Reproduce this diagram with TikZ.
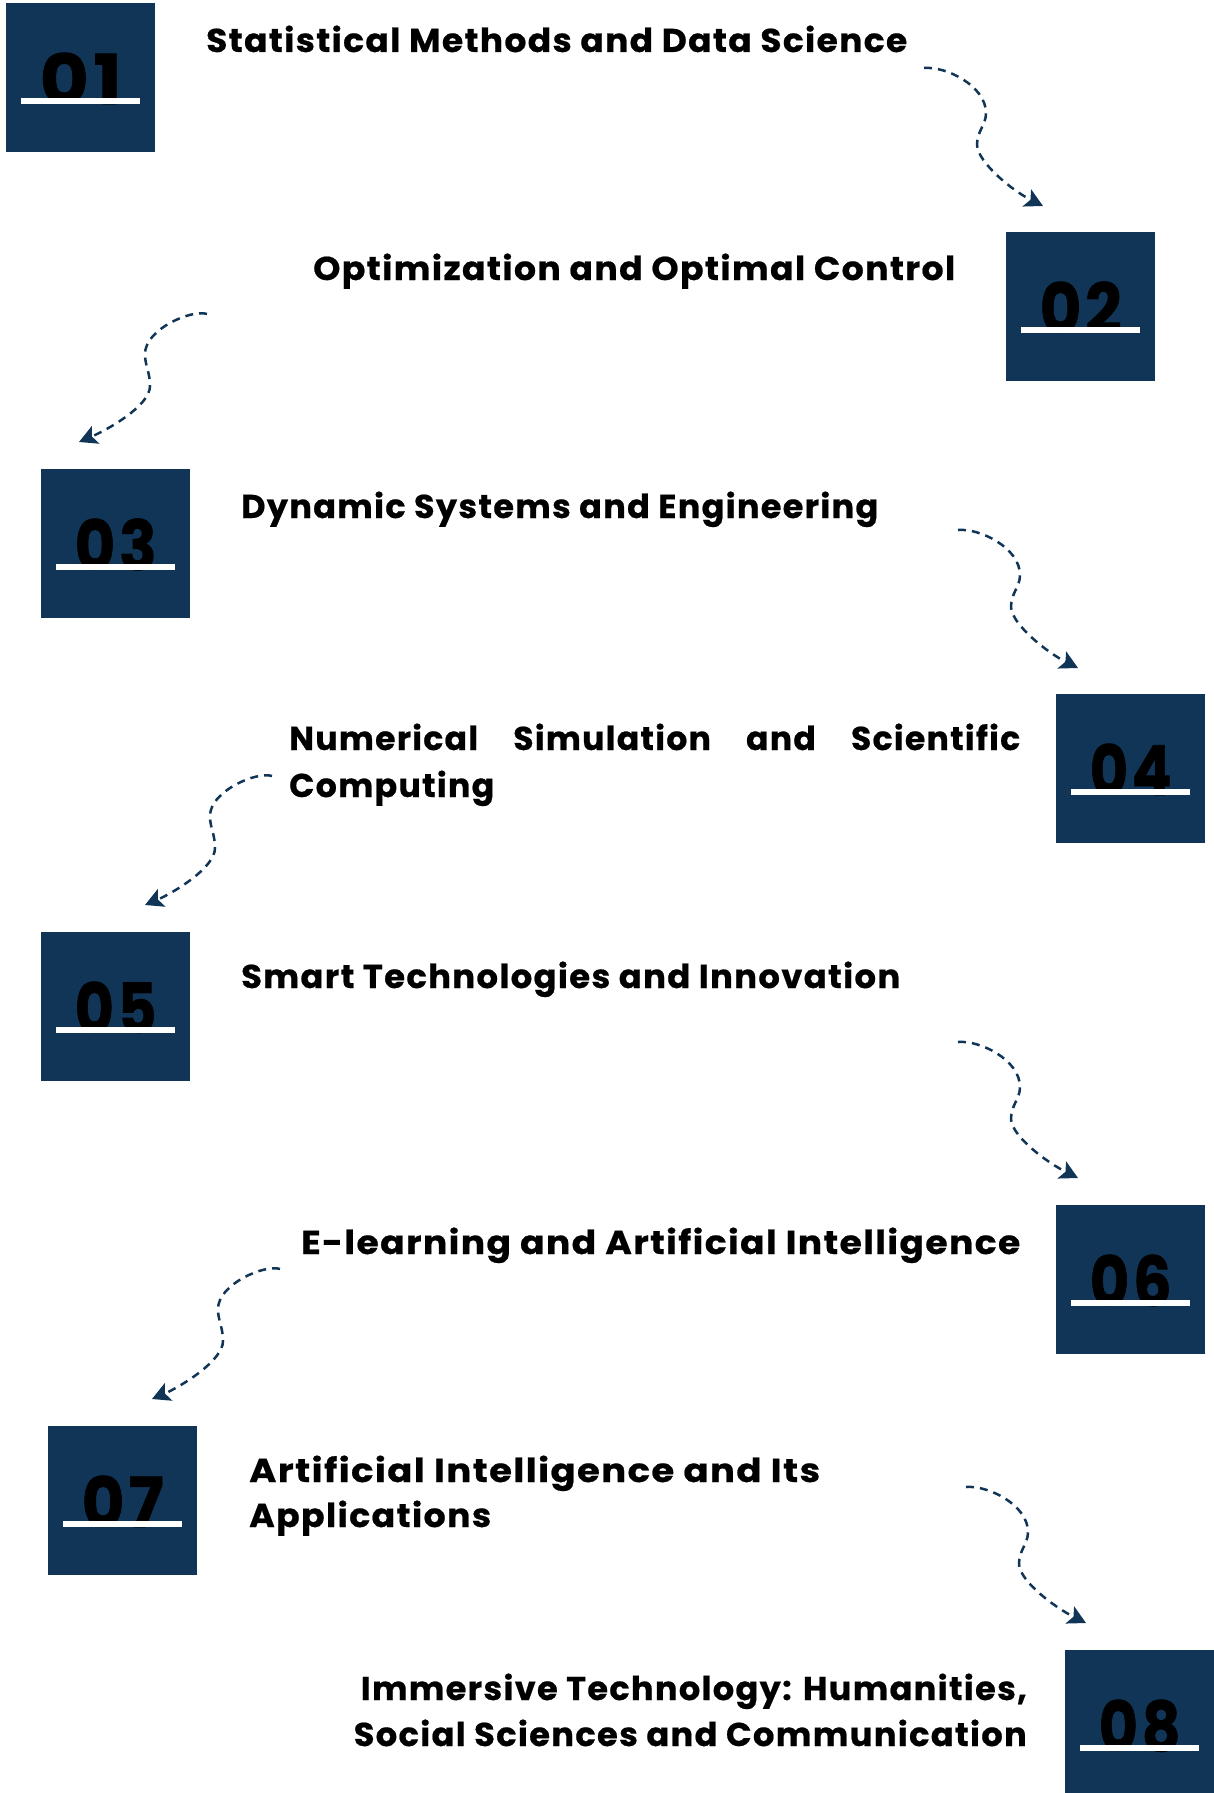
\documentclass[tikz,border=0pt]{standalone}
\usepackage{fontspec}
\usepackage{graphicx}
\usetikzlibrary{calc,arrows.meta}
\newfontfamily\labfont{Poppins}[LetterSpace=4,FakeBold=0.6]
\newfontfamily\numfont{Poppins}[RawFeature={+zero;+tnum},LetterSpace=6,FakeBold=1.0]
\definecolor{navy}{HTML}{113557}
\newcommand\fitw[2]{\resizebox{#1pt}{\height}{#2}}
\newcommand\rsquig[2]{\draw[squig] (#1) .. controls ($(#1)+(22,-2)$) and ($(#1)+(62,18)$) .. ($(#1)+(62,45)$) .. controls ($(#1)+(62,57)$) and ($(#1)+(53,63)$) .. ($(#1)+(53,77)$) .. controls ($(#1)+(54,95)$) and ($(#2)+(-30,-15)$) .. (#2);}
\newcommand\lsquig[2]{\draw[squig] (#1) .. controls ($(#1)+(-15,-5)$) and ($(#1)+(-62,15)$) .. ($(#1)+(-62,40)$) .. controls ($(#1)+(-62,52)$) and ($(#1)+(-57,58)$) .. ($(#1)+(-57,72)$) .. controls ($(#1)+(-57,92)$) and ($(#2)+(28,-12)$) .. (#2);}
\begin{document}
\begin{tikzpicture}[x=1pt,y=-1pt,
  numbox/.style={fill=navy, draw=none, minimum size=149pt, inner sep=0pt, anchor=north west},
  numtxt/.style={font=\numfont\bfseries\fontsize{69}{69}\selectfont, text=black, inner sep=0pt, anchor=base},
  uline/.style={draw=white, line width=6pt},
  lab/.style={font=\labfont\bfseries\fontsize{33}{40}\selectfont, text=black, inner sep=0pt, anchor=base west},
  labr/.style={lab, anchor=base east},
  squig/.style={draw=navy, line width=2.5pt, dash pattern=on 8pt off 6pt, -{Stealth[length=18pt,width=19pt,inset=4pt]}}]
\useasboundingbox (0,0) rectangle (1213,1793);
% boxes
\foreach \n/\x/\y in {1/6/3, 2/1006/232, 3/41/469, 4/1056/694, 5/41/932, 6/1056/1205, 7/48/1426, 8/1065/1650}{
  \node[numbox] (b\n) at (\x,\y) {};
  \node[numtxt] (n\n) at ($(b\n.north)+(0,101)$) {\fitw{82}{0\n}};
  \draw[uline] ($(b\n.north west)+(15,98)$) -- ($(b\n.north east)+(-15,98)$);
}
% labels
\node[lab] (t1) at (206,52) {\fitw{701}{Statistical Methods and Data Science}};
\node[lab] (t2) at (313,280) {\fitw{642}{Optimization and Optimal Control}};
\node[lab] (t3) at (241,518) {\fitw{637}{Dynamic Systems and Engineering}};
\node[lab] (t4a) at (289,750) {\hbox to 731pt{Numerical\hfill Simulation\hfill and\hfill Scientific}};
\node[lab] (t4b) at (289,797) {\fitw{205}{Computing}};
\node[lab] (t5) at (241,988) {\fitw{659}{Smart Technologies and Innovation}};
\node[lab] (t6) at (301,1254) {\fitw{719}{E-learning and Artificial Intelligence}};
\node[lab] (t7a) at (249,1482) {\fitw{571}{Artificial Intelligence and Its}};
\node[lab] (t7b) at (249,1527) {\fitw{242}{Applications}};
\node[labr] (t8a) at (1027,1700) {\fitw{666}{Immersive Technology: Humanities,}};
\node[labr] (t8b) at (1027,1746) {\fitw{673}{Social Sciences and Communication}};
% arrows
\coordinate (a1s) at (924,68);   \coordinate (a1e) at (1043,206);
\coordinate (a2s) at (207,314);  \coordinate (a2e) at (79,442);
\coordinate (a3s) at (958,530);  \coordinate (a3e) at (1078,668);
\coordinate (a4s) at (272,776);  \coordinate (a4e) at (145,905);
\coordinate (a5s) at (958,1042); \coordinate (a5e) at (1078,1178);
\coordinate (a6s) at (280,1269); \coordinate (a6e) at (152,1399);
\coordinate (a7s) at (966,1487); \coordinate (a7e) at (1086,1623);
\rsquig{a1s}{a1e}
\lsquig{a2s}{a2e}
\rsquig{a3s}{a3e}
\lsquig{a4s}{a4e}
\rsquig{a5s}{a5e}
\lsquig{a6s}{a6e}
\rsquig{a7s}{a7e}
\end{tikzpicture}
\end{document}
